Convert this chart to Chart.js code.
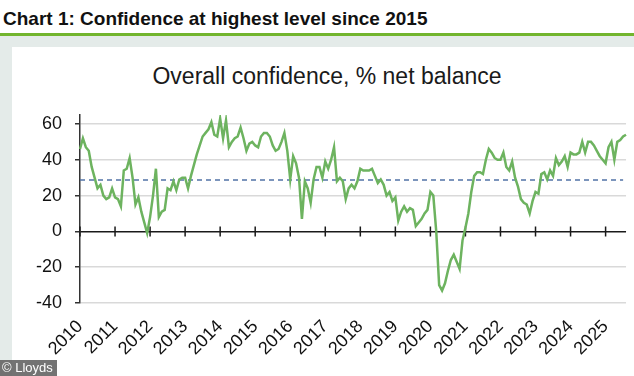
<!DOCTYPE html>
<html>
<head>
<meta charset="utf-8">
<script src="https://cdn.jsdelivr.net/npm/chart.js@4.4.1/dist/chart.umd.min.js"></script>
<style>
  html, body { margin: 0; padding: 0; background: #ffffff; }
  body { width: 634px; height: 376px; position: relative; overflow: hidden; font-family: "Liberation Sans", Arial, sans-serif; }
  #title { position: absolute; left: 3px; top: 8px; font-size: 19px; font-weight: bold; color: #111; white-space: nowrap; }
  #rule { position: absolute; left: 0; top: 33px; width: 634px; height: 3px; background: #72b52e; }
  #panel { position: absolute; left: 0; top: 36px; width: 634px; height: 340px; background: #e4ebe9; }
  #inner { position: absolute; left: 12px; top: 47px; width: 622px; height: 329px; background: #ffffff; }
  #subtitle { position: absolute; left: 20px; top: 63px; width: 614px; text-align: center; font-size: 23px; color: #1a1a1a; white-space: nowrap; }
  #chart { position: absolute; left: 0; top: 0; }
  #credit { position: absolute; left: 0; top: 360px; height: 16px; line-height: 16px; padding: 0 4px 0 2px; background: rgba(100,100,100,0.9); color: #fff; font-size: 13px; }
</style>
</head>
<body>
<div id="title">Chart 1: Confidence at highest level since 2015</div>
<div id="rule"></div>
<div id="panel"></div>
<div id="inner"></div>
<div id="subtitle">Overall confidence, % net balance</div>
<canvas id="chart" width="634" height="376"></canvas>
<div id="credit">© Lloyds</div>
<script>
// Year tick labels (one per January)
const yearLabels = ['2010','2011','2012','2013','2014','2015','2016','2017','2018','2019','2020','2021','2022','2023','2024','2025'];

// Y-axis tick values
const yTickValues = [-40, -20, 0, 20, 40, 60];

// Overall confidence, % net balance (monthly, Jan 2010 - Aug 2025)
const confidence = [
  // 2010
  46, 52, 47, 45, 36, 30, 24, 26, 20, 18, 19, 24,
  // 2011
  19, 18, 14, 34, 35, 41, 30, 15, 19, 11, 5, -1,
  // 2012
  8, 20, 35, 8, 11, 12, 24, 23, 28, 23, 29, 30,
  // 2013
  30, 24, 31, 37, 43, 48, 53, 55, 57, 61, 54, 53,
  // 2014
  63, 52, 62, 47, 50, 52, 53, 58, 52, 45, 49, 50,
  // 2015
  48, 47, 53, 55, 55, 53, 48, 45, 46, 50, 55, 45,
  // 2016
  29, 42, 38, 30, 7, 28, 24, 16, 29, 36, 36, 30,
  // 2017
  39, 35, 40, 47, 28, 30, 28, 18, 24, 26, 24, 28,
  // 2018
  35, 34, 34, 34, 35, 31, 27, 29, 26, 20, 22, 17,
  // 2019
  19, 6, 11, 14, 11, 13, 12, 3, 5, 7, 10, 12,
  // 2020
  22, 20, 0, -30, -33, -29, -22, -16, -13, -17, -21, -5,
  // 2021
  2, 10, 22, 31, 33, 33, 32, 40, 46, 44, 41, 40,
  // 2022
  40, 44, 36, 34, 39, 30, 25, 18, 16, 15, 10, 17,
  // 2023
  22, 21, 32, 33, 29, 34, 31, 41, 37, 39, 42, 36,
  // 2024
  44, 43, 43, 44, 50, 44, 50, 50, 48, 45, 42, 40,
  // 2025
  38, 47, 50, 40, 50, 51, 53, 54
];

// Long-run average (dashed reference line)
const longRunAverage = [28.7];

// Monthly categories built from the year labels
const categories = [];
yearLabels.forEach(y => {
  for (let m = 1; m <= 12; m++) {
    if (categories.length < confidence.length) categories.push(y + '-' + String(m).padStart(2, '0'));
  }
});

const zeroTicks = {
  id: 'zeroTicks',
  beforeDatasetsDraw(chart) {
    const xs = chart.scales.x, ys = chart.scales.y;
    const y0 = ys.getPixelForValue(0);
    const c = chart.ctx;
    c.save();
    c.strokeStyle = '#1a1a1a';
    c.lineWidth = 1.5;
    c.beginPath();
    for (let i = 0; i < categories.length; i += 12) {
      const x = xs.getPixelForValue(i);
      c.moveTo(x, y0 - 5);
      c.lineTo(x, y0 + 5);
    }
    c.stroke();
    c.restore();
  }
};

Chart.defaults.font.family = '"Liberation Sans", Arial, sans-serif';

new Chart(document.getElementById('chart'), {
  type: 'line',
  data: {
    labels: categories,
    datasets: [
      {
        label: 'Overall confidence',
        data: confidence,
        borderColor: '#6db35f',
        borderWidth: 2.5,
        pointRadius: 0,
        tension: 0,
        order: 1
      },
      {
        label: 'Average',
        data: [
          { x: categories[0], y: longRunAverage[0] },
          { x: categories[categories.length - 2], y: longRunAverage[0] }
        ],
        borderColor: '#5273a6',
        borderWidth: 1.5,
        borderDash: [5, 4],
        pointRadius: 0,
        order: 2
      }
    ]
  },
  plugins: [zeroTicks],
  options: {
    responsive: false,
    devicePixelRatio: 1,
    animation: false,
    layout: { padding: { left: 12, top: 115, right: 3.5, bottom: 0 } },
    plugins: { legend: { display: false }, title: { display: false }, tooltip: { enabled: false } },
    scales: {
      x: {
        type: 'category',
        offset: false,
        grid: { display: false, drawTicks: false },
        border: { display: false },
        afterFit(s) { s.height = 73; },
        ticks: {
          autoSkip: false,
          minRotation: 45,
          maxRotation: 45,
          padding: 13,
          color: '#111',
          font: { size: 18 },
          callback(v, i) { return i % 12 === 0 ? yearLabels[i / 12] : null; }
        }
      },
      y: {
        min: -40,
        max: 65,
        afterFit(s) { s.width = 68; },
        afterBuildTicks(s) { s.ticks = yTickValues.map(v => ({ value: v })); },
        border: { display: true, color: '#333', width: 1.5 },
        grid: {
          color: ctx => (ctx.tick && ctx.tick.value === 0) ? '#1a1a1a' : '#d9d9d9',
          lineWidth: 1.5,
          tickLength: 5,
          tickColor: '#333'
        },
        ticks: {
          padding: 13,
          color: '#111',
          font: { size: 18 },
          callback(v) { return String(v); }
        }
      }
    }
  }
});
</script>
</body>
</html>
